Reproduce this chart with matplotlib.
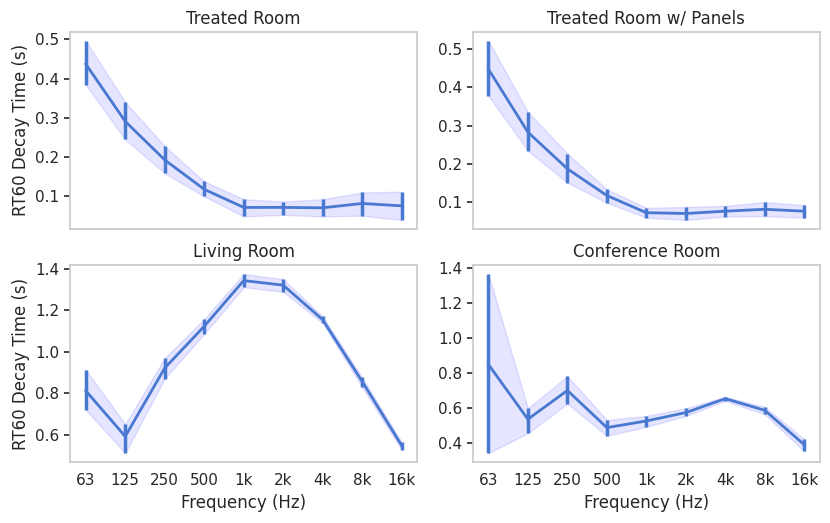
import matplotlib

matplotlib.use("Agg")
import matplotlib.pyplot as plt
import numpy as np

freq_labels = ["63", "125", "250", "500", "1k", "2k", "4k", "8k", "16k"]

# mean RT60 and lower/upper bounds per room
treated_mean = [0.437, 0.291, 0.193, 0.118, 0.072, 0.072, 0.071, 0.082, 0.076]
treated_lo = [0.384, 0.245, 0.159, 0.100, 0.049, 0.053, 0.049, 0.051, 0.040]
treated_hi = [0.496, 0.340, 0.228, 0.138, 0.093, 0.087, 0.093, 0.110, 0.112]

panels_mean = [0.448, 0.283, 0.187, 0.117, 0.072, 0.070, 0.076, 0.081, 0.076]
panels_lo = [0.378, 0.234, 0.151, 0.098, 0.059, 0.053, 0.062, 0.063, 0.059]
panels_hi = [0.522, 0.336, 0.227, 0.133, 0.085, 0.087, 0.090, 0.100, 0.092]

living_mean = [0.812, 0.592, 0.921, 1.122, 1.342, 1.320, 1.154, 0.857, 0.549]
living_lo = [0.720, 0.512, 0.870, 1.085, 1.310, 1.288, 1.138, 0.830, 0.528]
living_hi = [0.913, 0.651, 0.969, 1.157, 1.374, 1.349, 1.170, 0.876, 0.565]

conf_mean = [0.849, 0.535, 0.700, 0.487, 0.525, 0.573, 0.653, 0.586, 0.389]
conf_lo = [0.341, 0.455, 0.624, 0.440, 0.491, 0.554, 0.640, 0.563, 0.351]
conf_hi = [1.368, 0.598, 0.782, 0.531, 0.554, 0.598, 0.664, 0.605, 0.421]

rooms = [
    ("Treated Room", treated_mean, treated_lo, treated_hi),
    ("Treated Room w/ Panels", panels_mean, panels_lo, panels_hi),
    ("Living Room", living_mean, living_lo, living_hi),
    ("Conference Room", conf_mean, conf_lo, conf_hi),
]

LINE = "#4878d0"
TEXT = "#262626"

fig, axes = plt.subplots(2, 2, figsize=(8.3, 5.23), dpi=100)
fig.subplots_adjust(left=0.0843, right=0.988, top=0.939, bottom=0.1166,
                    wspace=0.159, hspace=0.183)

x = np.arange(len(freq_labels))
for ax, (title, mean, lo, hi) in zip(axes.flat, rooms):
    mean, lo, hi = np.array(mean), np.array(lo), np.array(hi)
    ax.fill_between(x, lo, hi, color="blue", alpha=0.1, lw=1)
    ax.errorbar(x, mean, yerr=[mean - lo, hi - mean], color=LINE,
                lw=2, elinewidth=2.5, capsize=0)
    ax.set_title(title, fontsize=12, color=TEXT)
    ax.set_xticks(x)
    ax.tick_params(axis="x", length=0, labelsize=11, pad=8, labelcolor=TEXT)
    ax.tick_params(axis="y", length=4, width=1.2, color=TEXT,
                   labelsize=11, labelcolor=TEXT)
    for spine in ax.spines.values():
        spine.set_color("#cccccc")
        spine.set_linewidth(1.25)

for ax in axes[0]:
    ax.set_xticklabels([])
for ax in axes[1]:
    ax.set_xticklabels(freq_labels)
    ax.set_xlabel("Frequency (Hz)", fontsize=12, color=TEXT)
for ax in axes[:, 0]:
    ax.set_ylabel("RT60 Decay Time (s)", fontsize=12, color=TEXT)

fig.savefig("out.png", dpi=100)
